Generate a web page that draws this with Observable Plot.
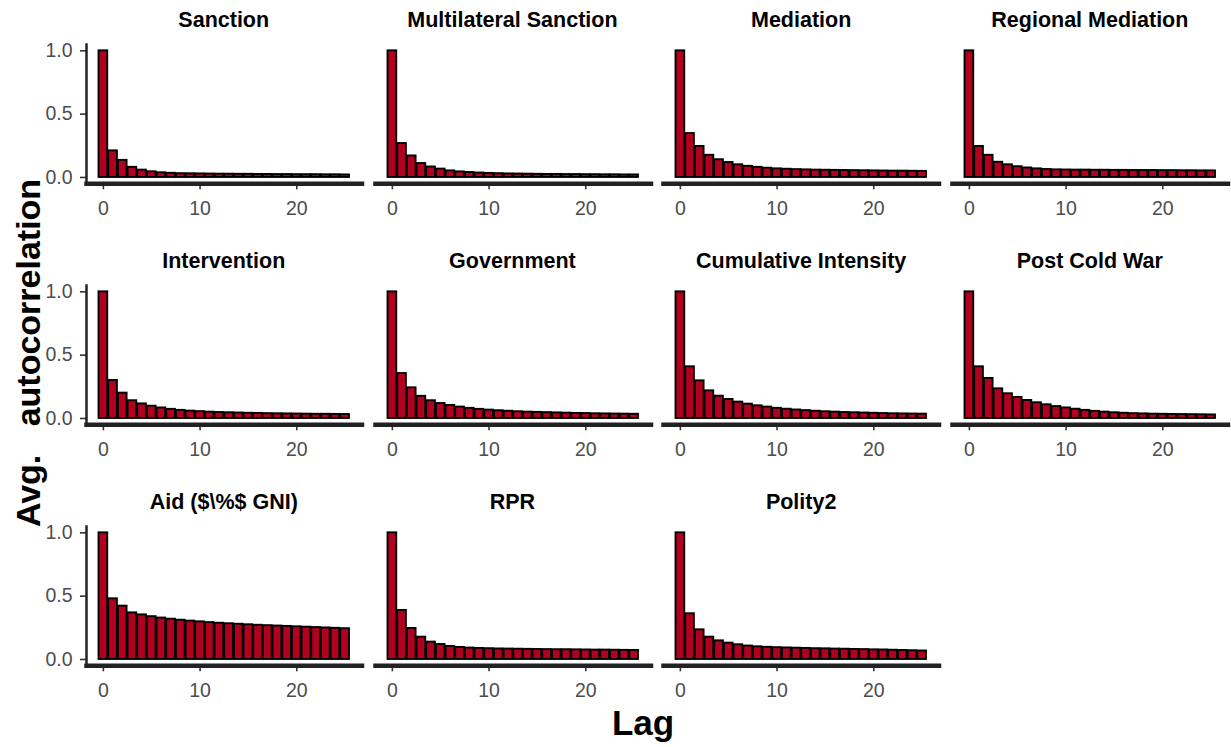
<!DOCTYPE html>
<html>
<head>
<meta charset="utf-8">
<script src="https://cdn.jsdelivr.net/npm/d3@7"></script>
<script src="https://cdn.jsdelivr.net/npm/@observablehq/plot@0.6"></script>
<style>
  html, body { margin: 0; padding: 0; background: #fff; }
  #chart { position: relative; width: 1231px; height: 747px; overflow: hidden; font-family: "Liberation Sans", Arial, sans-serif; background: #fff; }
  .ptitle { position: absolute; font-weight: bold; font-size: 21.5px; color: #000; white-space: nowrap; transform: translate(-50%, -50%); }
  .ytitle { position: absolute; font-weight: bold; font-size: 34px; color: #000; white-space: pre; transform: translate(-50%, -50%) rotate(-90deg); }
  .xtitle { position: absolute; font-weight: bold; font-size: 35px; color: #000; white-space: nowrap; transform: translate(-50%, -50%); }
  svg.panel { position: absolute; overflow: visible; }
</style>
</head>
<body>
<div id="chart"></div>
<script>
// ---- data ----
const lags = [0,1,2,3,4,5,6,7,8,9,10,11,12,13,14,15,16,17,18,19,20,21,22,23,24,25];
const panelTitles = ["Sanction", "Multilateral Sanction", "Mediation", "Regional Mediation",
  "Intervention", "Government", "Cumulative Intensity", "Post Cold War",
  "Aid ($\\%$ GNI)", "RPR", "Polity2"];
const sanction = [1, 0.21, 0.135, 0.08, 0.058, 0.045, 0.037, 0.033, 0.03, 0.029, 0.028, 0.027, 0.026, 0.026, 0.025, 0.025, 0.024, 0.024, 0.023, 0.023, 0.022, 0.022, 0.022, 0.021, 0.021, 0.02];
const multilateralSanction = [1, 0.268, 0.17, 0.11, 0.083, 0.066, 0.052, 0.044, 0.039, 0.035, 0.032, 0.03, 0.028, 0.027, 0.026, 0.025, 0.024, 0.024, 0.023, 0.023, 0.022, 0.022, 0.021, 0.021, 0.02, 0.02];
const mediation = [1, 0.347, 0.245, 0.175, 0.14, 0.118, 0.1, 0.088, 0.08, 0.073, 0.068, 0.065, 0.062, 0.06, 0.058, 0.057, 0.056, 0.055, 0.054, 0.053, 0.052, 0.051, 0.05, 0.05, 0.049, 0.048];
const regionalMediation = [1, 0.245, 0.175, 0.12, 0.1, 0.085, 0.075, 0.068, 0.063, 0.06, 0.059, 0.058, 0.058, 0.057, 0.057, 0.056, 0.056, 0.055, 0.055, 0.055, 0.054, 0.054, 0.053, 0.053, 0.052, 0.052];
const intervention = [1, 0.3, 0.2, 0.14, 0.115, 0.097, 0.083, 0.072, 0.064, 0.058, 0.054, 0.05, 0.047, 0.045, 0.043, 0.041, 0.04, 0.038, 0.037, 0.036, 0.035, 0.034, 0.033, 0.033, 0.032, 0.031];
const government = [1, 0.355, 0.242, 0.175, 0.14, 0.118, 0.103, 0.09, 0.08, 0.072, 0.066, 0.061, 0.057, 0.053, 0.05, 0.048, 0.046, 0.044, 0.042, 0.04, 0.039, 0.037, 0.036, 0.035, 0.034, 0.033];
const cumulativeIntensity = [1, 0.408, 0.297, 0.218, 0.176, 0.15, 0.129, 0.113, 0.1, 0.09, 0.08, 0.073, 0.067, 0.062, 0.057, 0.053, 0.05, 0.047, 0.045, 0.043, 0.041, 0.039, 0.037, 0.036, 0.035, 0.034];
const postColdWar = [1, 0.408, 0.316, 0.234, 0.195, 0.166, 0.142, 0.124, 0.108, 0.094, 0.083, 0.073, 0.064, 0.056, 0.05, 0.045, 0.041, 0.038, 0.036, 0.034, 0.033, 0.032, 0.031, 0.03, 0.029, 0.028];
const aidGNI = [1, 0.479, 0.421, 0.368, 0.352, 0.338, 0.327, 0.318, 0.31, 0.303, 0.297, 0.291, 0.286, 0.282, 0.278, 0.274, 0.27, 0.267, 0.264, 0.261, 0.258, 0.255, 0.252, 0.249, 0.246, 0.243];
const rpr = [1, 0.387, 0.245, 0.176, 0.137, 0.118, 0.103, 0.095, 0.09, 0.087, 0.085, 0.083, 0.082, 0.081, 0.08, 0.079, 0.078, 0.077, 0.077, 0.076, 0.075, 0.074, 0.074, 0.073, 0.072, 0.071];
const polity2 = [1, 0.361, 0.234, 0.176, 0.147, 0.129, 0.116, 0.106, 0.1, 0.096, 0.093, 0.091, 0.089, 0.087, 0.085, 0.084, 0.082, 0.081, 0.079, 0.078, 0.076, 0.075, 0.073, 0.071, 0.069, 0.067];
const seriesValues = [sanction, multilateralSanction, mediation, regionalMediation,
  intervention, government, cumulativeIntensity, postColdWar, aidGNI, rpr, polity2];
const xTicks = [0, 10, 20];
const yTicks = [0, 0.5, 1];
const yAxisTitle = "Avg.   autocorrelation";
const xAxisTitle = "Lag";

// ---- layout ----
const X0 = 86, Y0 = 43.7, COLW = 288.7, ROWH = 241.2, PW = 275.5, PH = 139.3;
const ML = 80, MR = 8, MT = 4, MB = 44;
const chart = document.getElementById("chart");

panelTitles.forEach((title, i) => {
  const col = i % 4, row = Math.floor(i / 4);
  const data = lags.map((lag, k) => ({lag, acf: seriesValues[i][k]}));
  const marks = [
    Plot.rectY(data, {x1: d => d.lag - 0.45, x2: d => d.lag + 0.45, y1: 0, y2: "acf",
      fill: "#B2001F", stroke: "#000", strokeWidth: 1.9}),
    Plot.axisX({ticks: xTicks, tickSize: 6, text: null, label: null, stroke: "#333", strokeWidth: 1.6}),
    Plot.axisX({ticks: xTicks, tickSize: 0, tickPadding: 17, tickFormat: d3.format("d"), label: null,
      fill: "#4d4d4d", fontSize: 19.5}),
    Plot.frame({anchor: "bottom", stroke: "#222", strokeWidth: 4.5})
  ];
  if (col === 0) {
    marks.push(
      Plot.axisY({ticks: yTicks, tickSize: 6, text: null, label: null, stroke: "#333", strokeWidth: 1.6}),
      Plot.axisY({ticks: yTicks, tickSize: 0, tickPadding: 14, tickFormat: d3.format(".1f"), label: null,
        fill: "#4d4d4d", fontSize: 19.5}),
      Plot.frame({anchor: "left", stroke: "#222", strokeWidth: 2.5})
    );
  }
  const svg = Plot.plot({
    width: PW + ML + MR,
    height: PH + MT + MB,
    marginLeft: ML, marginRight: MR, marginTop: MT, marginBottom: MB,
    x: {domain: [-1.745, 26.745], label: null},
    y: {domain: [-0.05, 1.05], label: null, axis: col === 0 ? undefined : null},
    style: {fontFamily: "Liberation Sans, Arial, sans-serif", background: "transparent", overflow: "visible"},
    marks
  });
  svg.classList.add("panel");
  svg.style.left = (X0 + col * COLW - ML) + "px";
  svg.style.top = (Y0 + row * ROWH - MT) + "px";
  chart.appendChild(svg);

  const t = document.createElement("div");
  t.className = "ptitle";
  t.textContent = title;
  t.style.left = (X0 + col * COLW + PW / 2) + "px";
  t.style.top = (20 + row * 241) + "px";
  chart.appendChild(t);
});

const yt = document.createElement("div");
yt.className = "ytitle";
yt.textContent = yAxisTitle;
yt.style.left = "28px";
yt.style.top = "353px";
chart.appendChild(yt);

const xt = document.createElement("div");
xt.className = "xtitle";
xt.textContent = xAxisTitle;
xt.style.left = "643px";
xt.style.top = "723px";
chart.appendChild(xt);
</script>
</body>
</html>
